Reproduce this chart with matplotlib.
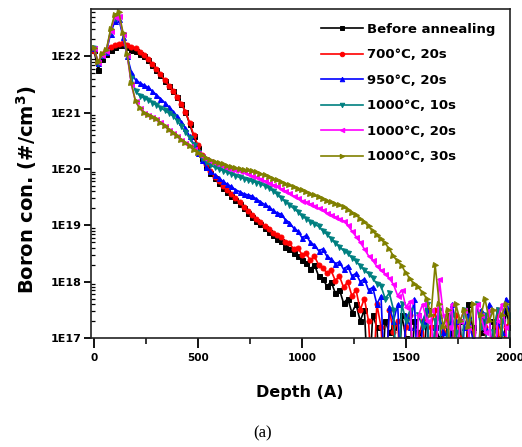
import matplotlib
matplotlib.use("Agg")
import matplotlib.pyplot as plt
from matplotlib.ticker import FixedLocator, NullFormatter

# depth (Angstrom)
depth = [0, 20, 40, 60, 80, 100, 120, 140, 160, 180,
         200, 220, 240, 260, 280, 300, 320, 340, 360, 380,
         400, 420, 440, 460, 480, 500, 520, 540, 560, 580,
         600, 620, 640, 660, 680, 700, 720, 740, 760, 780,
         800, 820, 840, 860, 880, 900, 920, 940, 960, 980,
         1000, 1020, 1040, 1060, 1080, 1100, 1120, 1140, 1160, 1180,
         1200, 1220, 1240, 1260, 1280, 1300, 1320, 1340, 1360, 1380,
         1400, 1420, 1440, 1460, 1480, 1500, 1520, 1540, 1560, 1580,
         1600, 1620, 1640, 1660, 1680, 1700, 1720, 1740, 1760, 1780,
         1800, 1820, 1840, 1860, 1880, 1900, 1920, 1940, 1960, 1980,
         2000]

# log10 of boron concentration (#/cm^3); 16.0 = zero counts (drops to axis)
before_log = [22.12, 21.76, 21.95, 22.05, 22.12, 22.17, 22.20, 22.20, 22.16, 22.12,
              22.10, 22.05, 22.00, 21.94, 21.85, 21.76, 21.67, 21.57, 21.48, 21.38,
              21.28, 21.16, 21.02, 20.80, 20.58, 20.38, 20.20, 20.04, 19.93, 19.84,
              19.75, 19.66, 19.60, 19.52, 19.45, 19.38, 19.30, 19.22, 19.15, 19.08,
              19.02, 18.95, 18.88, 18.82, 18.76, 18.72, 18.62, 18.58, 18.50, 18.46,
              18.38, 18.34, 18.22, 18.30, 18.10, 18.05, 17.92, 18.00, 17.80, 17.86,
              17.62, 17.70, 17.45, 17.60, 17.30, 17.50, 16.00, 17.40, 17.20, 16.00,
              17.30, 17.10, 17.20, 16.00, 17.40, 17.00, 16.00, 17.30, 17.10, 16.00,
              17.50, 16.00, 17.20, 17.00, 16.00, 17.40, 17.10, 16.00, 17.30, 16.00,
              17.60, 17.20, 16.00, 17.10, 17.40, 16.00, 17.30, 17.00, 16.00, 17.50,
              17.20]

c700_20_log = [22.10, 21.90, 22.05, 22.12, 22.17, 22.20, 22.22, 22.23, 22.20, 22.17,
               22.14, 22.08, 22.03, 21.95, 21.87, 21.78, 21.68, 21.58, 21.48, 21.39,
               21.28, 21.16, 21.02, 20.82, 20.60, 20.42, 20.24, 20.08, 19.96, 19.86,
               19.78, 19.70, 19.63, 19.55, 19.48, 19.41, 19.33, 19.26, 19.19, 19.12,
               19.06, 18.99, 18.93, 18.87, 18.82, 18.80, 18.70, 18.68, 18.58, 18.60,
               18.48, 18.50, 18.38, 18.45, 18.30, 18.25, 18.15, 18.20, 18.02, 18.10,
               17.90, 18.00, 17.75, 17.85, 17.50, 17.70, 17.30, 16.00, 17.60, 17.20,
               16.00, 17.50, 17.10, 17.30, 16.00, 17.20, 17.40, 16.00, 17.00, 17.30,
               16.00, 17.20, 17.50, 16.00, 17.10, 17.30, 16.00, 17.40, 17.00, 16.00,
               17.30, 17.10, 16.00, 17.40, 17.20, 16.00, 17.00, 17.50, 16.00, 17.20,
               17.30]

c950_20_log = [22.15, 21.88, 22.02, 22.08, 22.40, 22.62, 22.66, 22.35, 22.00, 21.72,
               21.58, 21.53, 21.49, 21.45, 21.38, 21.32, 21.25, 21.18, 21.10, 21.02,
               20.94, 20.84, 20.72, 20.58, 20.44, 20.28, 20.16, 20.04, 19.96, 19.90,
               19.84, 19.78, 19.73, 19.69, 19.63, 19.60, 19.56, 19.54, 19.52, 19.47,
               19.42, 19.37, 19.33, 19.27, 19.22, 19.20, 19.10, 19.05, 18.95, 18.90,
               18.78, 18.82, 18.70, 18.65, 18.55, 18.58, 18.45, 18.40, 18.32, 18.35,
               18.22, 18.28, 18.10, 18.15, 18.00, 18.05, 17.85, 17.90, 17.60, 17.75,
               16.00, 17.55, 17.30, 17.60, 16.00, 17.40, 17.20, 17.70, 16.00, 17.30,
               17.50, 16.00, 17.20, 17.40, 17.10, 16.00, 17.60, 17.30, 16.00, 17.20,
               17.40, 17.00, 16.00, 17.50, 17.20, 17.60, 16.00, 17.30, 17.10, 17.70,
               17.40]

c1000_10_log = [22.15, 21.88, 22.02, 22.10, 22.45, 22.68, 22.70, 22.38, 22.00, 21.62,
                21.38, 21.30, 21.26, 21.22, 21.18, 21.13, 21.09, 21.04, 20.99, 20.94,
                20.86, 20.76, 20.65, 20.55, 20.42, 20.30, 20.20, 20.12, 20.07, 20.03,
                20.00, 19.97, 19.94, 19.91, 19.88, 19.85, 19.83, 19.80, 19.78, 19.76,
                19.74, 19.70, 19.66, 19.61, 19.55, 19.48, 19.42, 19.36, 19.30, 19.24,
                19.16, 19.12, 19.06, 19.02, 18.98, 18.90, 18.84, 18.76, 18.68, 18.62,
                18.55, 18.50, 18.42, 18.36, 18.28, 18.20, 18.14, 18.06, 17.96, 17.92,
                17.70, 17.80, 17.50, 16.00, 17.60, 17.30, 17.50, 16.00, 17.40, 17.20,
                17.60, 16.00, 17.30, 17.50, 16.00, 17.20, 17.40, 17.10, 16.00, 17.50,
                17.30, 16.00, 17.60, 17.20, 17.40, 16.00, 17.10, 17.50, 17.30, 16.00,
                17.40]

c1000_20_log = [22.15, 21.90, 22.03, 22.10, 22.45, 22.70, 22.72, 22.40, 22.02, 21.50,
                21.20, 21.08, 21.00, 20.96, 20.92, 20.88, 20.83, 20.77, 20.70, 20.64,
                20.58, 20.52, 20.46, 20.40, 20.35, 20.28, 20.23, 20.18, 20.14, 20.11,
                20.08, 20.05, 20.02, 20.00, 19.98, 19.96, 19.94, 19.91, 19.88, 19.86,
                19.83, 19.79, 19.76, 19.72, 19.69, 19.65, 19.61, 19.57, 19.52, 19.48,
                19.44, 19.41, 19.38, 19.35, 19.30, 19.27, 19.22, 19.19, 19.15, 19.12,
                19.08, 19.00, 18.90, 18.80, 18.70, 18.58, 18.46, 18.38, 18.27, 18.20,
                18.14, 18.06, 17.95, 17.75, 17.85, 17.55, 17.65, 16.00, 17.40, 17.60,
                17.30, 17.50, 16.00, 18.05, 17.40, 17.20, 17.60, 16.00, 17.30, 17.50,
                17.20, 16.00, 17.60, 17.40, 17.10, 17.50, 16.00, 17.30, 17.60, 17.20,
                16.00]

c1000_30_log = [22.15, 21.90, 22.04, 22.12, 22.48, 22.74, 22.78, 22.42, 22.05, 21.52,
                21.20, 21.08, 21.00, 20.96, 20.92, 20.88, 20.82, 20.76, 20.70, 20.64,
                20.58, 20.52, 20.46, 20.40, 20.34, 20.28, 20.24, 20.20, 20.16, 20.13,
                20.10, 20.08, 20.06, 20.04, 20.02, 20.00, 19.99, 19.98, 19.96, 19.94,
                19.92, 19.89, 19.86, 19.83, 19.80, 19.77, 19.74, 19.71, 19.68, 19.65,
                19.62, 19.59, 19.56, 19.53, 19.50, 19.47, 19.44, 19.41, 19.38, 19.36,
                19.33, 19.28, 19.22, 19.18, 19.12, 19.06, 18.98, 18.90, 18.82, 18.75,
                18.68, 18.58, 18.45, 18.36, 18.28, 18.15, 18.05, 17.95, 17.90, 17.80,
                17.70, 17.40, 18.30, 17.60, 17.20, 17.50, 16.00, 17.60, 17.30, 17.50,
                17.20, 17.60, 16.00, 17.40, 17.70, 17.30, 17.50, 16.00, 17.40, 17.60,
                17.30]

series_logs = [before_log, c700_20_log, c950_20_log, c1000_10_log, c1000_20_log, c1000_30_log]
labels = ["Before annealing", "700\u00b0C, 20s", "950\u00b0C, 20s",
          "1000\u00b0C, 10s", "1000\u00b0C, 20s", "1000\u00b0C, 30s"]
colors = ["#000000", "#FF0000", "#0000FF", "#008080", "#FF00FF", "#808000"]
markers = ["s", "o", "^", "v", "<", ">"]

x_ticks = [0, 500, 1000, 1500, 2000]
x_minor = [250, 750, 1250, 1750]
y_ticks = [1e17, 1e18, 1e19, 1e20, 1e21, 1e22]
y_ticklabels = ["1E17", "1E18", "1E19", "1E20", "1E21", "1E22"]

fig = plt.figure(figsize=(5.22, 4.47), dpi=100)
ax = fig.add_axes([91/522, 1-338/447, (510-91)/522, (338-9)/447])

for ylog, lab, col, mk in zip(series_logs, labels, colors, markers):
    vals = [10 ** v for v in ylog]
    ax.plot(depth, vals, color=col, marker=mk, markersize=3.6, linewidth=1.2,
            markeredgewidth=0.7, label=lab)

ax.set_yscale("log")
ax.set_xlim(-14, 2000)
ax.set_ylim(1e17, 10 ** 22.84)

ax.set_xticks(x_ticks)
ax.set_xticklabels([str(t) for t in x_ticks], fontweight="bold", fontsize=7.5)
ax.xaxis.set_minor_locator(FixedLocator(x_minor))
ax.set_yticks(y_ticks)
ax.set_yticklabels(y_ticklabels, fontweight="bold", fontsize=8)
ax.yaxis.set_minor_formatter(NullFormatter())

ax.tick_params(axis="x", which="major", direction="out", length=7, width=1.3, pad=4)
ax.tick_params(axis="x", which="minor", direction="out", length=4, width=1.1)
ax.tick_params(axis="y", which="major", direction="out", length=5, width=1.3, pad=2)
ax.tick_params(axis="y", which="minor", direction="in", length=3, width=0.9)
for sp in ax.spines.values():
    sp.set_linewidth(1.2)
    sp.set_color("#222222")

fig.text(300/522, 1-392/447, "Depth (A)", ha="center", va="center",
         fontsize=11.5, fontweight="bold")
fig.text(27/522, 1-190/447, "Boron con. (#/cm$^\\mathbf{3}$)", ha="center", va="center",
         rotation=90, fontsize=14, fontweight="bold")
fig.text(263/522, 1-433/447, "(a)", ha="center", va="center",
         fontsize=12, family="Liberation Serif")

leg = ax.legend(loc="upper left", bbox_to_anchor=(314/522, 1-16/447),
                bbox_transform=fig.transFigure, frameon=False,
                prop={"weight": "bold", "size": 9.5}, handlelength=3.2,
                handletextpad=0.3, labelspacing=0.95, borderpad=0, numpoints=1,
                markerscale=0.9)

fig.savefig("out.png", dpi=100)
